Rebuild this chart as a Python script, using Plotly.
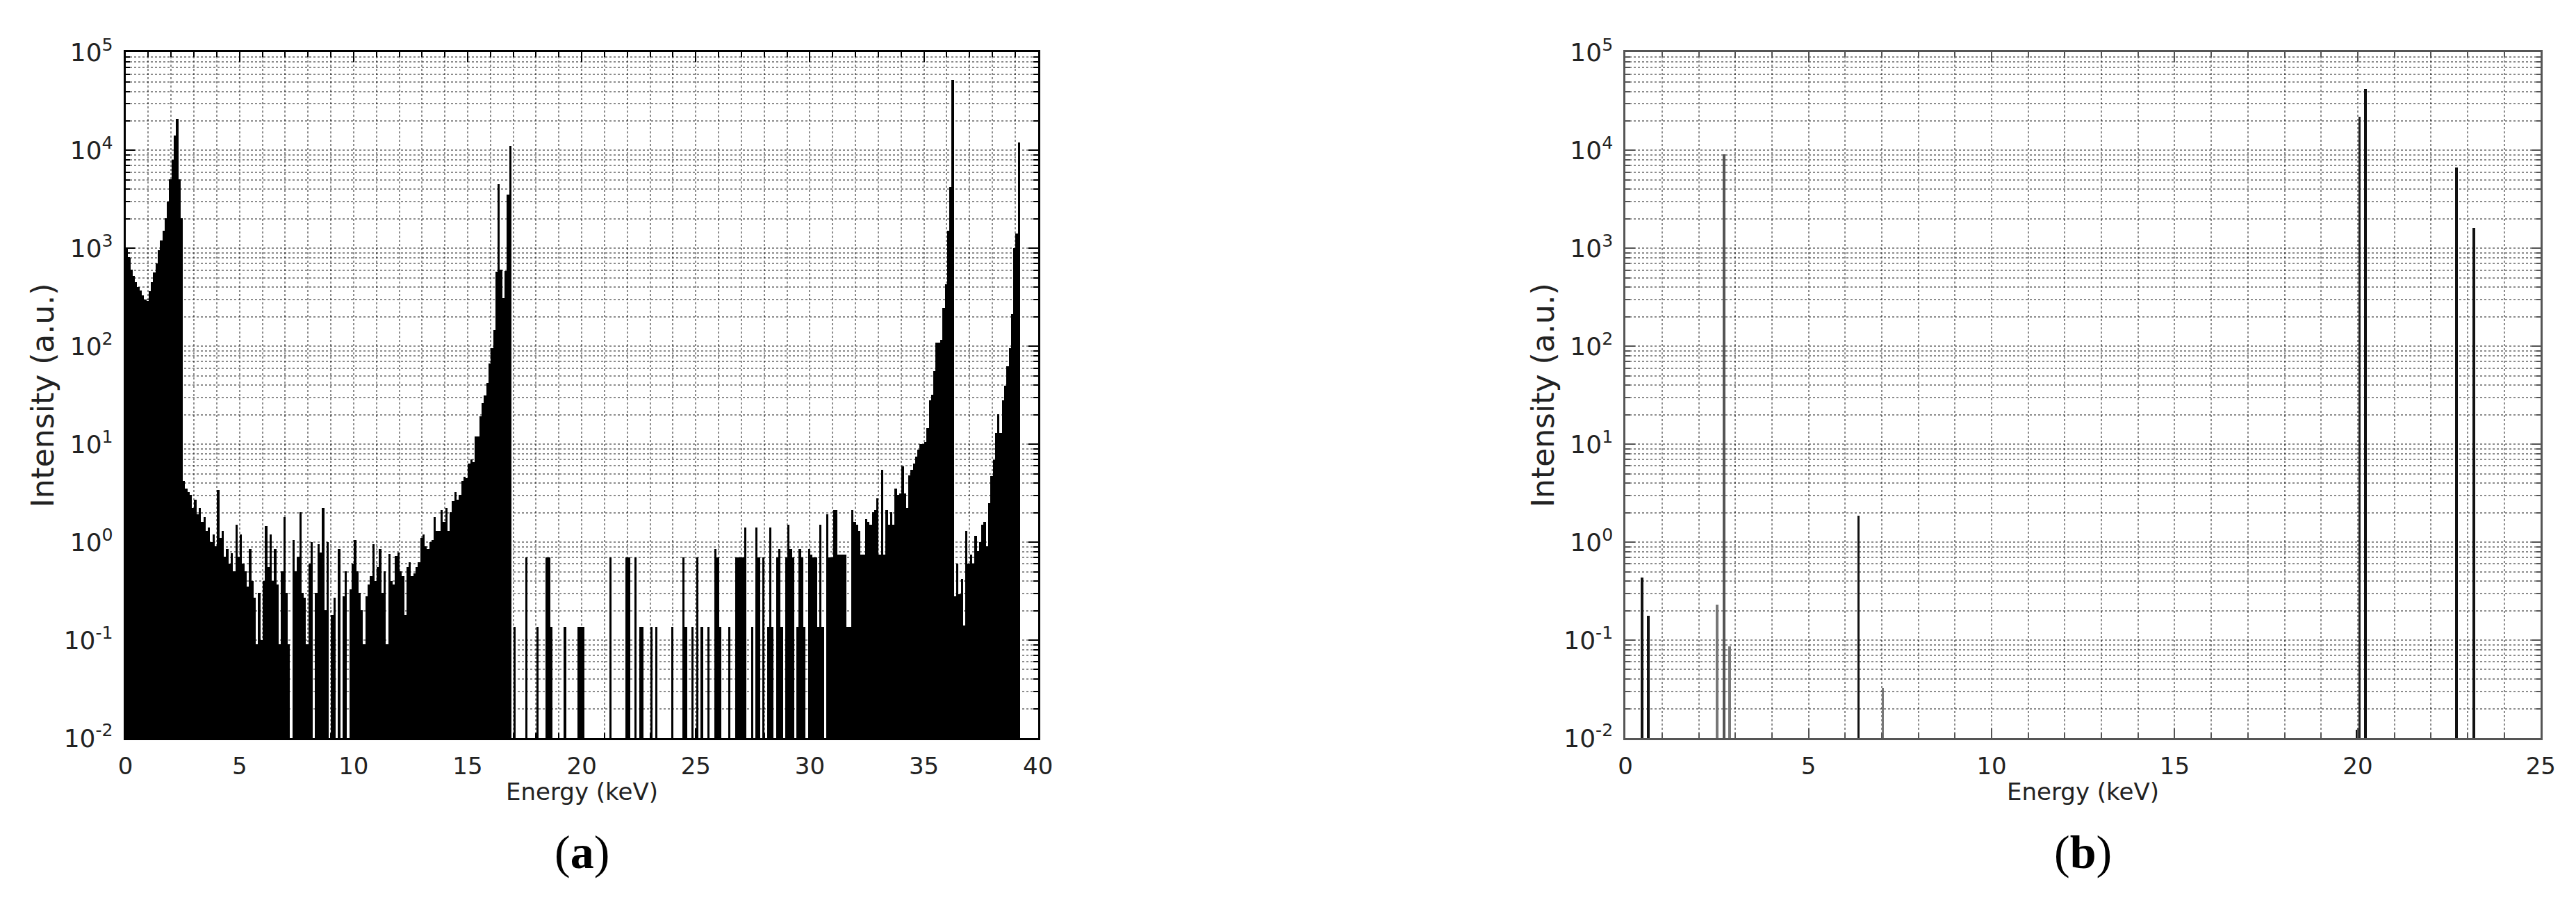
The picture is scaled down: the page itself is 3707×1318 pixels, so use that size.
import plotly.graph_objects as go

# ---- panel (a): spectrum, counts per 0.1 keV bin ----
bin_width_a = 0.1
counts_0_10 = [
    1000, 800, 600, 520, 450, 400, 370, 330, 300, 290,
    360, 450, 560, 700, 950, 1200, 1500, 2000, 3000, 5000,
    8000, 14000, 21000, 5000, 2000, 4.2, 3.5, 3.2, 3.0, 2.2,
    2.7, 1.9, 2.2, 1.6, 1.8, 1.3, 1.4, 1.0, 1.2, 0.9,
    3.4, 1.1, 1.3, 0.7, 0.85, 0.6, 0.77, 0.5, 1.5, 0.7,
    1.2, 0.6, 0.5, 0.35, 0.85, 0.4, 0.27, 0.09, 0.3, 0.1,
    0.4, 1.45, 0.55, 1.2, 0.4, 0.85, 0.37, 0.09, 0.5, 1.8,
    0.3, 0.09, 0, 1.05, 0.5, 0.7, 2.0, 0.3, 0.27, 0.09,
    0.6, 1.0, 0, 0.3, 0.95, 0.78, 2.2, 0.2, 1.0, 0,
    0.18, 0.27, 0, 0.85, 0, 0.28, 0.5, 0, 0.33, 0.6,
]
counts_10_20 = [
    1.05, 0.5, 0.3, 0.2, 0.09, 0.28, 0.37, 0.45, 0.95, 0.4,
    0.55, 0.85, 0.3, 0.5, 0.09, 0.75, 0.4, 0.37, 0.72, 0.78,
    0.5, 0.45, 0.18, 0.55, 0.62, 0.45, 0.48, 0.55, 0.62, 1.1,
    1.2, 0.9, 0.85, 1.0, 1.05, 1.8, 1.3, 1.3, 2.1, 1.6,
    2.2, 1.3, 2.0, 2.6, 3.2, 2.7, 3.0, 4.2, 4.6, 4.5,
    6.3, 7.0, 6.5, 12, 12, 19, 26, 31, 42, 66,
    95, 145, 570, 4500, 600, 310, 580, 3500, 11000, 0,
    0.135, 0, 0, 0, 0, 0.69, 0, 0, 0, 0,
    0.135, 0, 0, 0, 0.69, 0.69, 0.135, 0, 0, 0,
    0, 0, 0.135, 0, 0, 0, 0, 0, 0.135, 0.135,
]
counts_20_30 = [
    0.135, 0, 0, 0, 0, 0, 0, 0, 0, 0,
    0, 0, 0.69, 0, 0, 0, 0, 0, 0, 0.69,
    0.69, 0, 0, 0.69, 0, 0.135, 0.135, 0, 0, 0,
    0.135, 0, 0.135, 0, 0, 0, 0, 0, 0, 0.135,
    0, 0, 0, 0, 0.69, 0.135, 0, 0, 0.135, 0,
    0.69, 0, 0.135, 0, 0, 0.135, 0, 0, 0.85, 0.69,
    0.135, 0, 0, 0, 0.135, 0, 0, 0.69, 0.69, 0.69,
    0.69, 1.4, 0, 0, 0.135, 0, 1.4, 0.69, 0, 0.69,
    0, 0.135, 1.4, 0.135, 0, 0.69, 0.85, 0.135, 0, 0.69,
    1.5, 0.85, 0.69, 0, 0.135, 0.85, 0.69, 0.135, 0, 0.85,
]
counts_30_39 = [
    0.74, 0.69, 0.69, 0.135, 1.5, 0.135, 0, 1.9, 0.69, 0.69,
    2.1, 2.1, 0.74, 0.74, 0.74, 0.74, 0.135, 0.135, 2.1, 1.6,
    1.5, 1.3, 0.74, 0.74, 1.7, 1.6, 1.5, 2.0, 2.1, 2.8,
    0.74, 5.4, 0.74, 2.1, 1.5, 2.0, 1.5, 3.5, 3.0, 3.1,
    5.9, 3.1, 2.2, 4.8, 5.4, 6.3, 7.4, 8.8, 10, 10,
    10.5, 14.5, 28, 32, 55, 108, 108, 115, 245, 430,
    1500, 4200, 52000, 0.28, 0.6, 0.29, 0.42, 0.14, 1.3, 0.6,
    0.74, 0.6, 1.15, 0.8, 1.0, 1.5, 1.6, 0.9, 2.5, 4.7,
    6.8, 13, 20, 13, 28, 39, 62, 95, 210, 1000,
    1400, 12000,
]

# ---- panel (b): discrete lines ----
energy_b = [0.45, 0.62, 2.51, 2.70, 2.85, 6.37, 7.03, 19.98, 20.05, 20.22, 22.70, 23.17]
intensity_b = [0.43, 0.175, 0.23, 9000, 0.086, 1.86, 0.032, 0.012, 22000, 42000, 6600, 1600]
shade_b = ["#111", "#111", "#777", "#555", "#777", "#111", "#777", "#111", "#222", "#111", "#111", "#111"]

y_tick_vals = [1e-2, 1e-1, 1e0, 1e1, 1e2, 1e3, 1e4, 1e5]
y_tick_text = ["10<sup>-2</sup>", "10<sup>-1</sup>", "10<sup>0</sup>", "10<sup>1</sup>",
               "10<sup>2</sup>", "10<sup>3</sup>", "10<sup>4</sup>", "10<sup>5</sup>"]

counts_a = counts_0_10 + counts_10_20 + counts_20_30 + counts_30_39
energy_a = [round(bin_width_a * (i + 0.5), 3) for i in range(len(counts_a))]
counts_a = [c if c > 0 else None for c in counts_a]

W, H = 3707, 1318
ax_a = (163, 1488)
ax_b = (2341, 3670)
top, bottom = 43, 1066

fig = go.Figure()
fig.add_trace(go.Bar(x=energy_a, y=counts_a, width=bin_width_a,
                     marker=dict(color="black", line=dict(width=0)),
                     xaxis="x", yaxis="y"))
fig.add_trace(go.Bar(x=energy_b, y=intensity_b, width=0.07,
                     marker=dict(color=shade_b, line=dict(width=0)),
                     xaxis="x2", yaxis="y2"))

grid = dict(showgrid=True, gridcolor="rgba(0,0,0,0.45)", griddash="dot", gridwidth=1.5)
minor_y = [k * 10.0 ** e for e in range(-2, 5) for k in range(2, 10)]
font_main = "DejaVu Sans"

def x_axis(domain, rng, anchor, col):
    return dict(domain=[domain[0] / W, domain[1] / W], range=rng, anchor=anchor,
                tick0=0, dtick=5, ticks="inside", ticklen=14, tickwidth=2, tickcolor=col,
                showline=True, linecolor=col, linewidth=2.5, mirror="ticks", zeroline=False,
                ticklabelstandoff=8,
                tickfont=dict(family=font_main, size=34, color="#222"),
                minor=dict(dtick=1, ticks="inside", ticklen=7, tickcolor=col, **grid),
                **grid)

def y_axis(anchor, col):
    return dict(type="log", range=[-2, 5], anchor=anchor,
                domain=[1 - bottom / H, 1 - top / H],
                tickvals=y_tick_vals, ticktext=y_tick_text,
                ticks="inside", ticklen=14, tickwidth=2, tickcolor=col,
                showline=True, linecolor=col, linewidth=2.5, mirror="ticks", zeroline=False,
                ticklabelstandoff=8,
                tickfont=dict(family=font_main, size=36, color="#222"),
                minor=dict(tickvals=minor_y, ticks="inside", ticklen=7, tickcolor=col, **grid),
                **grid)

fig.update_layout(
    width=W, height=H,
    margin=dict(l=0, r=0, t=0, b=0),
    paper_bgcolor="white", plot_bgcolor="white",
    showlegend=False, bargap=0,
    xaxis=x_axis(ax_a, [0, 40], "y", "black"),
    yaxis=y_axis("x", "black"),
    xaxis2=x_axis(ax_b, [0, 25], "y2", "#555"),
    yaxis2=y_axis("x2", "#555"),
)

anns = []
for (l, r), lab in [(ax_a, "a"), (ax_b, "b")]:
    cx = (l + r) / 2 / W
    anns.append(dict(x=(l - 120) / W, y=1 - (top + bottom) / 2 / H, xref="paper", yref="paper",
                     xanchor="center", yanchor="middle",
                     text="Intensity (a.u.)", textangle=-90, showarrow=False,
                     font=dict(family=font_main, size=44, color="#222")))
    anns.append(dict(x=cx, y=1 - 1146 / H, xref="paper", yref="paper",
                     xanchor="center", yanchor="middle",
                     text="Energy (keV)", showarrow=False,
                     font=dict(family=font_main, size=34, color="#222")))
    anns.append(dict(x=cx, y=1 - 1236 / H, xref="paper", yref="paper",
                     xanchor="center", yanchor="middle",
                     text="(<b>%s</b>)" % lab, showarrow=False,
                     font=dict(family="Liberation Serif", size=68, color="black")))
fig.update_layout(annotations=anns)

fig.write_html("out.html")
